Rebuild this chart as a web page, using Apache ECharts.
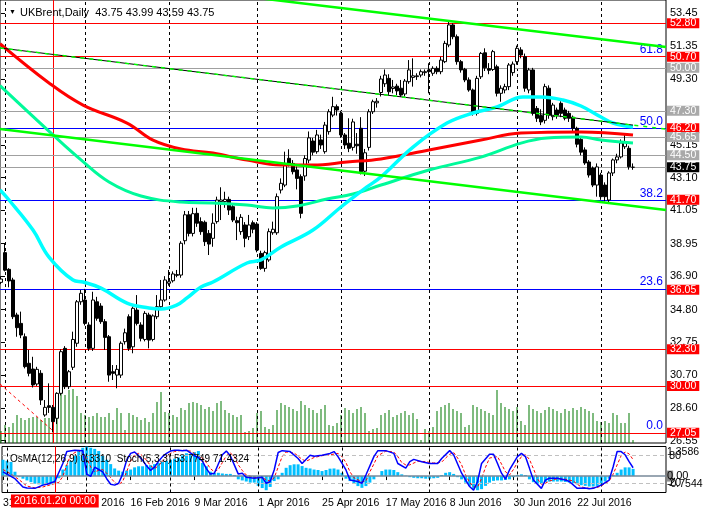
<!DOCTYPE html>
<html><head><meta charset="utf-8">
<script src="https://cdn.jsdelivr.net/npm/echarts@6/dist/echarts.min.js"></script>
<style>html,body{margin:0;padding:0;background:#fff}#c{width:704px;height:513px}</style>
</head><body><div id="c"></div><script>
// ---------- data ----------
const symbolName = "UKBrent,Daily";
const tickIndex = [0,16,32,48,64,80,96,112,128,144];
const tickLabels = ["31 Dec 2015","25 Jan 2016","16 Feb 2016","9 Mar 2016","1 Apr 2016","25 Apr 2016","17 May 2016","8 Jun 2016","30 Jun 2016","22 Jul 2016"];
const monthStarts = [1,21,42,64,85,107,129,150];
const crossIndex = 13;
const crossLabel = "2016.01.20 00:00";
const priceTicks = [26.55,28.60,30.70,32.75,34.80,36.90,38.95,41.05,43.10,45.15,47.25,49.30,51.35,53.45];
// [open, close, low, high]
const candles = [
[36.51,36.72,36.40,36.90],[38.38,37.28,37.20,38.98],[37.33,36.60,36.20,37.40],[36.66,34.35,34.20,36.80],[34.46,33.66,33.09,34.60],
[33.93,33.20,33.00,34.67],[33.09,31.21,31.10,33.30],[31.42,30.79,30.60,32.26],[31.06,30.06,29.90,31.83],[30.12,31.04,30.00,31.20],
[30.79,29.11,28.80,30.99],[28.17,28.65,28.06,29.11],[28.75,28.65,28.30,30.16],[28.65,27.75,27.10,28.80],[27.96,29.53,27.60,29.60],
[29.53,32.15,29.40,32.30],[32.36,29.95,29.80,32.50],[29.95,30.89,29.80,31.00],[31.17,32.92,31.00,33.41],[32.68,35.29,32.46,35.40],
[35.29,35.82,35.10,36.03],[35.40,33.93,33.80,36.10],[33.83,32.36,32.20,34.00],[32.36,35.40,32.20,35.92],[35.29,34.25,34.10,35.60],
[35.02,34.04,33.90,35.20],[34.04,33.05,32.26,34.20],[33.09,30.68,30.26,33.20],[30.89,30.79,30.37,31.31],[30.68,31.04,29.85,31.31],
[30.68,32.68,30.50,32.80],[32.78,33.34,32.60,33.60],[34.35,32.36,32.20,34.50],[32.46,34.88,32.05,35.00],[34.77,33.93,33.80,35.71],
[33.83,32.99,32.80,34.00],[32.92,34.56,32.80,34.70],[34.46,32.88,32.36,34.60],[32.92,34.40,32.80,34.50],[34.35,34.98,34.20,35.71],
[34.98,35.40,34.90,36.66],[35.40,36.66,35.30,36.90],[36.45,36.55,36.30,37.29],[36.61,37.04,36.50,37.20],[36.95,37.00,36.83,37.29],
[36.97,38.97,36.80,39.10],[39.13,40.76,38.90,41.00],[40.76,39.59,39.40,41.00],[39.59,40.83,39.40,41.20],[40.85,40.23,40.00,41.20],
[40.33,39.70,39.50,40.60],[40.29,39.07,38.80,40.40],[39.59,38.92,38.23,39.80],[39.28,40.23,38.75,40.85],[40.33,41.69,40.20,41.90],
[41.59,41.69,40.43,42.49],[41.59,41.73,41.20,42.21],[41.73,41.06,40.75,41.90],[41.27,40.43,40.30,41.50],[40.39,40.26,39.17,40.64],
[39.70,40.60,39.50,40.80],[40.12,39.28,38.72,40.30],[39.38,40.12,39.17,40.75],[40.26,39.85,39.60,40.40],[40.18,38.54,38.40,40.30],
[38.33,37.39,37.30,38.50],[37.39,38.38,37.18,38.50],[37.92,39.70,37.80,39.90],[39.63,39.85,39.50,40.33],[39.63,41.90,39.50,42.10],
[42.32,42.74,42.10,43.05],[42.63,43.99,42.50,44.73],[44.31,43.99,43.80,44.88],[43.99,43.47,43.30,44.20],[43.58,43.05,42.36,43.80],
[43.16,40.85,40.54,43.30],[43.20,44.30,42.90,44.50],[44.20,45.60,44.00,46.00],[45.40,44.70,44.50,45.60],[44.73,45.78,44.60,46.10],
[45.47,45.15,44.90,45.80],[44.73,46.40,44.60,46.60],[45.99,47.24,45.80,47.40],[47.03,47.56,46.90,48.18],[47.56,47.35,47.00,47.70],
[47.14,45.78,45.60,47.30],[45.78,45.15,44.90,45.90],[45.26,44.94,44.70,46.83],[45.00,46.60,44.80,46.80],[45.20,45.10,44.60,45.90],
[46.20,43.47,43.30,46.90],[43.50,44.66,43.20,44.90],[45.00,47.24,44.80,47.40],[47.24,47.87,47.10,48.00],[47.80,47.90,47.50,48.10],
[48.45,49.30,48.20,49.50],[49.00,49.55,48.80,49.90],[49.34,48.50,48.30,49.60],[48.70,48.80,48.40,49.24],[48.85,48.55,48.29,49.00],
[48.72,48.29,48.18,49.24],[48.36,49.17,48.20,49.30],[49.13,49.87,49.00,50.49],[49.40,49.50,48.82,50.60],[49.45,49.50,49.24,49.66],
[49.55,49.76,49.40,49.90],[49.70,49.76,49.50,49.90],[49.87,49.76,48.40,50.29],[49.66,49.97,49.50,50.10],[49.97,49.76,49.60,50.10],
[49.76,50.49,49.60,50.70],[50.39,51.54,50.30,51.70],[51.44,52.70,51.30,52.90],[52.70,51.96,51.80,52.80],[51.96,50.39,50.20,52.10],
[50.39,49.87,49.70,50.50],[49.91,49.24,49.10,50.00],[49.24,48.61,48.50,49.40],[48.61,47.14,47.00,48.70],[47.14,49.34,47.00,49.50],
[49.44,50.91,49.30,51.00],[50.95,50.00,49.80,51.23],[49.95,49.85,49.60,50.30],[49.90,51.02,49.80,51.13],[50.07,48.40,48.20,50.20],
[48.40,48.72,47.87,48.90],[48.61,48.82,48.40,49.00],[48.82,50.18,48.60,50.30],[49.70,50.24,49.50,50.40],[50.39,51.23,50.20,51.40],
[51.13,50.81,50.60,51.30],[50.70,48.72,48.50,50.90],[48.61,49.87,48.40,50.00],[49.87,47.14,47.00,50.00],[47.45,46.83,46.60,47.60],
[47.00,46.60,46.40,47.40],[46.70,48.82,46.50,49.00],[48.72,47.03,46.80,48.90],[46.93,47.66,46.70,47.80],[47.35,47.03,46.80,47.50],
[47.77,47.14,46.90,47.90],[47.35,46.83,46.70,47.50],[47.14,46.83,46.60,47.30],[46.90,46.20,46.00,47.00],[46.20,45.20,45.00,46.30],
[45.50,44.70,44.50,45.60],[44.84,44.02,43.90,45.00],[44.08,43.26,43.10,44.20],[43.70,42.63,42.50,43.80],[42.63,43.77,41.90,43.99],
[43.26,41.90,41.70,43.40],[42.63,41.90,41.60,42.80],[41.69,43.39,41.50,43.50],[43.39,44.21,43.20,44.30],[44.21,44.40,44.00,44.60],
[44.40,45.28,44.30,45.50],[45.04,45.36,44.90,45.88],[44.94,43.78,43.60,45.10],[43.75,43.75,43.59,43.99]
];
// tick volume (thousands)
const volumes = [
12,18,16,20,28,25,23,25,26,26, 23,25,25,25,35,53,48,53,54,47,
30,28,26,27,30,26,26,30,23,35, 30,13,30,28,26,23,25,21,30,41,
51,31,30,28,26,35,33,40,41,40, 38,34,36,32,40,42,33,30,28,26,
28,11,12,15,30,32,16,14,18,33, 40,38,36,34,32,42,38,35,33,30,
34,38,18,17,20,28,35,33,30,34, 36,30,12,14,15,28,30,33,26,28,
30,32,28,30,24,3,14,12,16,32, 36,38,40,34,32,30,16,18,38,36,
34,32,30,28,53,40,36,34,32,36, 22,18,38,34,32,30,33,36,34,32,
30,34,32,35,33,36,34,32,30,22, 21,22,20,30,28,20,20,30,3
];
// moving averages [bar, price]
const maRed = [[-0.25,51.52],[12,49.05],[20.5,47.66],[31.5,46.53],[38,45.46],[45,44.90],[53,44.64],[61.5,44.20],[70,43.89],[78,43.89],[86.5,44.08],[95,44.27],[107,44.83],[120,45.46],[130,45.90],[145,45.97],[158,45.78]];
const maGreen = [[-0.25,48.88],[13,45.78],[20,44.21],[27,42.82],[35,41.94],[45,41.56],[53,41.50],[61.5,41.37],[68,41.19],[74,41.31],[81.5,41.75],[88,42.07],[95,42.63],[107,43.58],[120,44.39],[130,45.27],[136.5,45.59],[145,45.65],[150,45.46],[158,45.27]];
const maCyan = [[-0.25,42.32],[2,41.69],[8,39.80],[12,38.10],[18,36.66],[20.5,36.53],[25,36.15],[31.5,35.21],[37,34.90],[40,34.83],[44,35.09],[46.5,35.53],[50,36.22],[53,36.53],[61.5,37.73],[65,37.92],[70,38.73],[78,39.80],[85,41.25],[91.5,42.51],[95,43.14],[103,45.02],[111.5,46.53],[118,47.16],[124,47.54],[130.5,48.17],[135,48.17],[140.5,47.98],[145,47.60],[150,46.91],[153,46.53],[158,46.28]];
// trend lines [bar, price]
const chanUpper = [[60,54.52],[166.25,51.31]];
const chanLower = [[-0.25,46.15],[166.25,41.06]];
const chanMidBlack = [[-0.25,51.25],[158,46.40]];
const chanMidDash = [[-0.25,51.25],[166.25,46.15]];
const redTrend = [[-0.25,30.12],[12.75,27.23]];
// horizontal levels
const levelValues = [52.80,50.70,50.00,47.30,46.20,45.65,44.50,43.75,41.70,36.05,32.30,30.00,27.05];
const levelKinds  = ["red","red","gray","gray","red","gray","gray","cur","red","red","red","red","red"];
const fibValues = [50.72,46.20,41.65,36.10,27.05];
const fibLabels = ["61.8","50.0","38.2","23.6","0.0"];
const fibLineShown = [false,true,true,true,false];
// OsMA(12,26,9) per bar
const osma = [
0.75,0.7,0.65,0.2,-0.05,-0.12,-0.2,-0.28,-0.35,-0.38,-0.4,-0.4,-0.38,-0.35,-0.1,0.3,0.5,
0.7,0.95,1.15,1.3,1.35,1.3,1.25,1.15,0.95,0.75,0.55,0.35,0.25,0.2,0.25,0.3,0.4,
0.45,0.45,0.5,0.5,0.55,0.6,0.65,0.7,0.75,0.8,0.85,0.95,1.05,1.0,1.1,1.15,0.6,
0.45,0.2,0.15,0.15,0.12,0.1,0.1,0.05,-0.15,-0.2,-0.25,-0.3,-0.3,-0.45,-0.55,-0.65,-0.5,
-0.23,-0.15,0.15,0.38,0.5,0.54,0.54,0.46,0.38,0.35,0.3,0.28,0.23,0.28,0.34,0.35,0.3,
0.15,-0.12,-0.23,-0.34,-0.46,-0.54,-0.46,-0.3,-0.15,0,0.23,0.3,0.3,0.28,0.18,0.08,0.02,
-0.05,-0.08,-0.1,-0.1,-0.12,-0.12,-0.1,-0.08,0.05,0.15,0.18,0.1,-0.05,-0.15,-0.3,-0.45,-0.6,
-0.65,-0.6,-0.45,-0.3,-0.22,-0.2,-0.2,-0.18,-0.15,-0.05,0.05,0.08,0.05,-0.15,-0.28,-0.35,-0.35,
-0.28,-0.25,-0.25,-0.25,-0.25,-0.27,-0.3,-0.33,-0.38,-0.42,-0.45,-0.48,-0.48,-0.45,-0.4,-0.25,-0.12,
0.05,0.15,0.3,0.4,0.4,0.331
];
// Stoch(5,3,3) main and signal [bar, value]
const stochMain = [[0,45],[1,40],[3,30],[5,12],[6,10],[8,9],[10,16],[11,18],[13,24],[15,63],[16,89],[18,92],[20,91],[21,40],[22,35],[23,55],[24,50],[25,45],[26,30],[27,18],[28,16],[29,20],[30,40],[31,70],[32,85],[33,88],[34,80],[35,70],[36,58],[37,48],[38,55],[39,68],[40,78],[41,85],[42,90],[43,92],[44,92],[45,91],[46,92],[47,86],[48,80],[49,76],[50,68],[51,52],[52,40],[53,42],[54,62],[55,82],[56,90],[57,80],[58,60],[59,40],[60,42],[61,33],[63,31],[65,33],[66,20],[67,24],[68,49],[69,87],[70,91],[72,89],[74,74],[75,63],[77,81],[78,79],[80,81],[82,85],[83,89],[84,78],[86,49],[87,27],[89,24],[90,20],[91,38],[93,78],[94,91],[96,91],[98,85],[99,63],[101,53],[102,67],[103,72],[105,67],[107,63],[109,63],[110,74],[112,91],[113,82],[115,42],[117,13],[118,5],[119,24],[120,63],[122,83],[123,83],[124,63],[125,42],[126,29],[127,49],[129,78],[130,85],[131,78],[132,53],[133,27],[135,9],[136,27],[137,31],[139,31],[141,27],[142,24],[144,9],[146,10],[147,8],[148,9],[150,16],[152,27],[153,56],[154,89],[155,89],[156,82],[157,67],[158,53.77]];
const stochSignal = [[0,50],[1,45],[2,40],[4,28],[6,14],[8,10],[10,12],[12,17],[14,22],[15,35],[16,60],[17,82],[19,91],[21,75],[22,55],[23,45],[24,48],[25,50],[26,42],[27,32],[28,22],[29,17],[30,24],[31,45],[32,68],[33,82],[34,85],[35,80],[36,70],[37,58],[38,52],[39,58],[40,68],[41,78],[42,85],[43,89],[45,92],[47,90],[48,85],[49,80],[50,75],[51,65],[52,52],[53,45],[54,50],[55,65],[56,80],[57,86],[58,78],[59,60],[60,48],[61,38],[63,33],[65,32],[66,28],[67,25],[68,32],[69,55],[70,78],[71,88],[73,86],[75,72],[76,68],[78,76],[80,80],[82,82],[84,85],[85,78],[86,65],[87,45],[88,32],[90,23],[91,25],[92,45],[93,62],[94,80],[96,90],[98,88],[99,78],[100,65],[101,60],[102,60],[104,68],[106,67],[108,64],[110,66],[111,75],[112,83],[113,87],[114,75],[115,60],[116,38],[117,22],[118,12],[119,12],[120,30],[121,55],[122,75],[124,78],[125,62],[126,45],[127,38],[128,50],[129,65],[130,78],[131,82],[132,72],[133,52],[134,30],[135,18],[136,20],[137,25],[139,30],[141,29],[143,25],[144,18],[145,12],[147,9],[149,11],[150,14],[151,20],[152,25],[153,40],[154,60],[155,80],[156,88],[157,84],[158,71.43]];
const osmaText = "0.3310", stochMainText = "53.7749", stochSignalText = "71.4324";
const osmaRange = [-0.7544, 1.3586];
const stochLevels = [80, 20];

// ---------- chart ----------
const F = "Liberation Sans, Arial, sans-serif";
const XMIN = -0.25, XMAX = 166.25;
const last = candles[candles.length-1];
const none = ['none','none'];
const kindStyle = {
  red:  {line:'#FF0000', bg:'#FF0000', fg:'#FFFFFF'},
  gray: {line:'#A0A0A0', bg:'#A9A9A9', fg:'#FFFFFF'},
  cur:  {line:'#A0A0A0', bg:'#000000', fg:'#FFFFFF'}
};
const levelLines = levelValues.map((v,i)=>({yAxis:v,lineStyle:{color:kindStyle[levelKinds[i]].line,width:1,type:'solid'},label:{show:false}}));
const levelBoxes = levelValues.map((v,i)=>{
  const s = kindStyle[levelKinds[i]];
  return {yAxis:v, lineStyle:{color:'transparent',width:0},
    label:{show:true,position:'end',distance:1,formatter:v.toFixed(2),backgroundColor:s.bg,color:s.fg,
      fontFamily:F,fontSize:10.5,lineHeight:9,padding:[1,3,0,3]}};
});
const fibMarks = fibValues.map((v,i)=>({yAxis:v,
  lineStyle:{color:fibLineShown[i]?'#0000FF':'transparent',width:1,type:'solid'},
  label:{show:true,position:'insideEndTop',distance:[3,1],formatter:fibLabels[i],color:'#0000FF',fontFamily:F,fontSize:12}}));
const sepMarks = monthStarts.map(k=>({xAxis:k}));

function lineSeries(data,color,width,extra){
  return Object.assign({type:'line',data:data,xAxisIndex:0,yAxisIndex:0,showSymbol:false,symbol:'none',
    lineStyle:{color:color,width:width},silent:true,z:4},extra||{});
}

const option = {
  animation:false,
  backgroundColor:'#FFFFFF',
  title:[
    {text:'▼',left:4,top:4,textStyle:{fontSize:7,color:'#000',fontWeight:'normal',fontFamily:F}},
    {text:symbolName+'  '+last[0].toFixed(2)+' '+last[3].toFixed(2)+' '+last[2].toFixed(2)+' '+last[1].toFixed(2),
     left:15,top:2,textStyle:{fontSize:11,color:'#000',fontWeight:'normal',fontFamily:F}},
    {text:'OsMA(12,26,9) '+osmaText+'  Stoch(5,3,3) '+stochMainText+' '+stochSignalText,
     left:5,top:449,textStyle:{fontSize:10,color:'#000',fontWeight:'normal',fontFamily:F}}
  ],
  grid:[
    {left:0,top:0,width:666,height:443,show:true,borderColor:'#000',borderWidth:1,backgroundColor:'transparent'},
    {left:0,top:446.5,width:666,height:46,show:true,borderColor:'#000',borderWidth:1,backgroundColor:'transparent'}
  ],
  xAxis:[
    {gridIndex:0,type:'value',min:XMIN,max:XMAX,axisLine:{show:false},axisTick:{show:false},axisLabel:{show:false},splitLine:{show:false}},
    {gridIndex:1,type:'value',min:XMIN,max:XMAX,axisLine:{show:false},splitLine:{show:false},
     axisTick:{show:true,customValues:tickIndex,length:4,lineStyle:{color:'#000'}},
     axisLabel:{show:true,customValues:tickIndex,align:'left',margin:5,color:'#000',fontFamily:F,fontSize:10.5,
       formatter:v=>{const i=tickIndex.indexOf(Math.round(v));return i>=0?tickLabels[i]:'';}}}
  ],
  yAxis:[
    {gridIndex:0,type:'value',position:'right',min:26.408,max:54.268,axisLine:{show:false},splitLine:{show:false},
     axisTick:{show:true,customValues:priceTicks,length:4,lineStyle:{color:'#000'}},
     axisLabel:{show:true,customValues:priceTicks,margin:4,color:'#000',fontFamily:F,fontSize:11,formatter:v=>v.toFixed(2)}},
    {gridIndex:0,type:'value',min:0,max:443,show:false},
    {gridIndex:1,type:'value',min:osmaRange[0],max:osmaRange[1],show:false},
    {gridIndex:1,type:'value',min:0,max:100,show:false}
  ],
  series:[
    {type:'bar',xAxisIndex:0,yAxisIndex:1,data:volumes.map((v,i)=>[i,v]),barWidth:1,itemStyle:{color:'#007800'},silent:true,z:1},
    {type:'line',xAxisIndex:0,yAxisIndex:0,data:[],silent:true,z:2,
     markLine:{silent:true,symbol:none,animation:false,label:{show:false},
       data:[...sepMarks.map(m=>Object.assign({},m,{lineStyle:{color:'#000',width:1,type:[3,3]}})),
             {xAxis:crossIndex,lineStyle:{color:'#FF0000',width:1,type:'solid'}}]}},
    {type:'line',xAxisIndex:0,yAxisIndex:0,data:[],silent:true,z:3,
     markLine:{silent:true,symbol:none,animation:false,data:levelLines}},
    {type:'line',xAxisIndex:0,yAxisIndex:0,data:[],silent:true,z:3,
     markLine:{silent:true,symbol:none,animation:false,data:fibMarks}},
    {type:'candlestick',xAxisIndex:0,yAxisIndex:0,barWidth:3,silent:true,z:5,
     data:candles.map((d,i)=>[i,d[0],d[1],d[2],d[3]]),encode:{x:0,y:[1,2,3,4]},
     itemStyle:{color:'#FFFFFF',color0:'#000000',borderColor:'#000000',borderColor0:'#000000',borderWidth:1}},
    lineSeries(maGreen,'#00FA9A',3,{smooth:0.4,z:6}),
    lineSeries(maRed,'#FF0000',3,{smooth:0.4,z:6}),
    lineSeries(maCyan,'#00FFFF',3.5,{smooth:0.4,z:6}),
    lineSeries(chanUpper,'#00FF00',2.5,{z:7}),
    lineSeries(chanLower,'#00FF00',2.5,{z:7}),
    lineSeries(chanMidBlack,'#000000',1,{z:7}),
    lineSeries(chanMidDash,'#00FF00',1.5,{z:8,lineStyle:{color:'#00FF00',width:1.5,type:[4,5]}}),
    lineSeries(redTrend,'#FF0000',1,{z:7,lineStyle:{color:'#FF0000',width:1,type:[3,3]}}),
    {type:'line',xAxisIndex:0,yAxisIndex:0,data:[],silent:true,zlevel:1,z:10,
     markLine:{silent:true,symbol:none,animation:false,data:levelBoxes}},
    {type:'bar',xAxisIndex:1,yAxisIndex:2,data:osma.map((v,i)=>[i,v]),barWidth:3,itemStyle:{color:'#00BFFF'},silent:true,z:3,
     markLine:{silent:true,symbol:none,animation:false,
       data:[
         {yAxis:0,lineStyle:{color:'#778899',width:1.5,type:'solid'},
          label:{show:true,position:'end',distance:1,formatter:'{a|0}{b|.00}',
            rich:{a:{backgroundColor:'#8C8C8C',color:'#000',fontFamily:F,fontSize:11},b:{color:'#000',fontFamily:F,fontSize:11}}}},
         {yAxis:1.09,lineStyle:{color:'transparent',width:0},label:{show:true,position:'end',distance:1,formatter:'1.3586',color:'#000',fontFamily:F,fontSize:10.5}},
         {yAxis:-0.38,lineStyle:{color:'transparent',width:0},label:{show:true,position:'end',distance:1,formatter:'-0.7544',color:'#000',fontFamily:F,fontSize:10.5}}
       ]}},
    {type:'line',xAxisIndex:1,yAxisIndex:3,data:stochSignal,showSymbol:false,symbol:'none',silent:true,z:4,
     lineStyle:{color:'#FF0000',width:1,type:[3,2]}},
    {type:'line',xAxisIndex:1,yAxisIndex:3,data:stochMain,showSymbol:false,symbol:'none',silent:true,z:5,
     lineStyle:{color:'#0000FF',width:1.5},
     markLine:{silent:true,symbol:none,animation:false,
       data:stochLevels.map(v=>({yAxis:v,lineStyle:{color:'#C0C0C0',width:1,type:[4,3]},
         label:{show:true,position:'end',distance:3,formatter:String(v),color:'#000',fontFamily:F,fontSize:11}}))}},
    {type:'line',xAxisIndex:1,yAxisIndex:3,data:[],silent:true,z:9,
     markLine:{silent:true,symbol:none,animation:false,
       data:sepMarks.map(m=>Object.assign({},m,{lineStyle:{color:'#000',width:1,type:[3,3]},label:{show:false}}))}},
    {type:'line',xAxisIndex:1,yAxisIndex:3,data:[],silent:true,zlevel:1,z:10,
     markLine:{silent:true,symbol:none,animation:false,
       data:[{xAxis:crossIndex,lineStyle:{color:'#FF0000',width:1,type:'solid'},
              label:{show:true,position:'start',distance:2,formatter:crossLabel,backgroundColor:'#FF0000',color:'#FFFFFF',
                fontFamily:F,fontSize:10.5,lineHeight:13,padding:[0,3,0,3]}}]}}
  ]
};
const chart = echarts.init(document.getElementById('c'),null,{renderer:'canvas',width:704,height:513});
chart.setOption(option);
</script></body></html>
